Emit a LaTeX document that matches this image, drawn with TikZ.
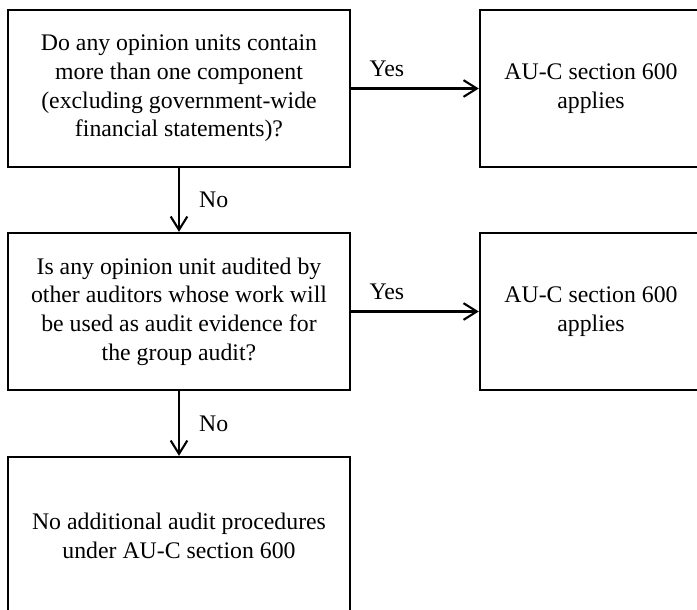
\documentclass[tikz,border=0pt]{standalone}
\usepackage{fontspec}
\setmainfont{Liberation Serif}
\usetikzlibrary{arrows.meta}
\begin{document}
\begin{tikzpicture}[x=0.03cm,y=-0.03cm,
    box/.style={draw,line width=2pt,align=center,inner sep=0pt,font=\fontsize{20.3}{24.5}\selectfont},
    qbox/.style={box,minimum width=10.26cm,minimum height=4.71cm},
    abox/.style={box,minimum width=6.66cm,minimum height=4.71cm},
    arr/.style={line width=1.8pt,-{Straight Barb[length=4mm,width=5mm]}},
    lbl/.style={font=\fontsize{20.3}{24}\selectfont}]
    \clip (0,0) rectangle (697,609);
    \node[qbox] (q1) at (179,88.5) {Do any opinion units contain\\more than one component\\(excluding government-wide\\financial statements)?};
    \node[abox] (a1) at (591,88.5) {AU-C section 600\\applies};
    \node[qbox] (q2) at (179,311.5) {Is any opinion unit audited by\\other auditors whose work will\\be used as audit evidence for\\the group audit?};
    \node[abox] (a2) at (591,311.5) {AU-C section 600\\applies};
    \node[qbox,minimum height=4.74cm] (end) at (179,536) {No additional audit procedures\\under AU-C section 600};
    \draw[arr] (q1.east) -- node[lbl,above=6pt,pos=0.28] (y1) {Yes} (a1.west);
    \draw[arr] (q2.east) -- node[lbl,above=6pt,pos=0.28] (y2) {Yes} (a2.west);
    \draw[arr] (q1.south) -- node[lbl,right=13pt] (n1) {No} (q2.north);
    \draw[arr] (q2.south) -- node[lbl,right=13pt] (n2) {No} (end.north);
  \end{tikzpicture}
\end{document}
